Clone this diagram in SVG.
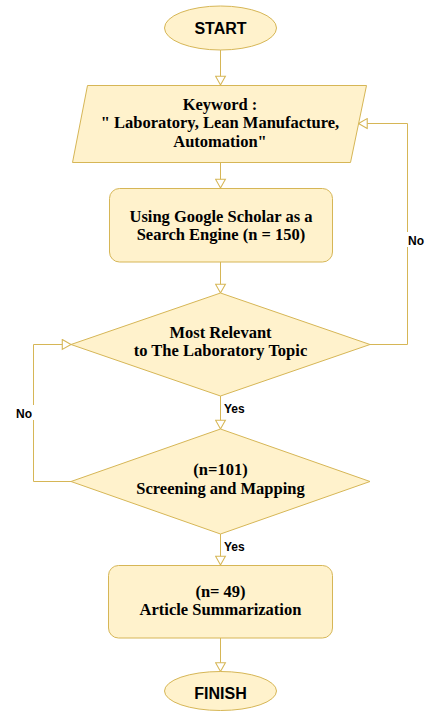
<svg xmlns="http://www.w3.org/2000/svg" width="426" height="711" viewBox="0 0 426 711">
<style>
.shape{fill:#fff2cc;stroke:#d6b656;stroke-width:1}
.conn{fill:none;stroke:#d6b656;stroke-width:1}
.t{font-family:"Liberation Serif","Times New Roman",serif;font-weight:bold;font-size:16.5px;fill:#000;text-anchor:middle}
.ts{font-family:"Liberation Sans",Arial,sans-serif;font-weight:bold;font-size:16px;fill:#000;text-anchor:middle}
.lbl{font-family:"Liberation Sans",Arial,sans-serif;font-weight:bold;font-size:12px;fill:#000}
</style>
<defs>
<marker id="arr" markerUnits="userSpaceOnUse" markerWidth="12" markerHeight="12" refX="8" refY="4.5" orient="auto" viewBox="-1 -1 11 11">
<path d="M0,0 L8,4.5 L0,9 Z" fill="#ffffff" stroke="#d6b656" stroke-width="1"/>
</marker>
</defs>
<rect width="426" height="711" fill="#ffffff"/>
<g id="connectors">
<line class="conn" x1="220.5" y1="50" x2="220.5" y2="85" marker-end="url(#arr)"/>
<line class="conn" x1="220.5" y1="162" x2="220.5" y2="188" marker-end="url(#arr)"/>
<line class="conn" x1="220.5" y1="262" x2="220.5" y2="293" marker-end="url(#arr)"/>
<line class="conn" x1="220.5" y1="396" x2="220.5" y2="429" marker-end="url(#arr)"/>
<line class="conn" x1="220.5" y1="534" x2="220.5" y2="565" marker-end="url(#arr)"/>
<line class="conn" x1="220.5" y1="638" x2="220.5" y2="671.5" marker-end="url(#arr)"/>
<polyline class="conn" points="370,344.5 407.5,344.5 407.5,123.5 358.5,123.5" marker-end="url(#arr)"/>
<polyline class="conn" points="71,481.5 33.5,481.5 33.5,344.5 71,344.5" marker-end="url(#arr)"/>
<rect x="404" y="232" width="22" height="15" fill="#ffffff"/>
<text class="lbl" x="408" y="245">No</text>
<rect x="15" y="405" width="21" height="15" fill="#ffffff"/>
<text class="lbl" x="16" y="418">No</text>
<text class="lbl" x="224" y="413">Yes</text>
<text class="lbl" x="224" y="551">Yes</text>
</g>
<g id="start">
<ellipse class="shape" cx="220.5" cy="28" rx="56" ry="22"/>
<text class="ts" x="220.5" y="33.5">START</text>
</g>
<g id="keyword">
<polygon class="shape" points="87.5,85.5 366.5,85.5 350.5,162.5 72.5,162.5"/>
<text class="t" x="220" y="109.5">Keyword :</text>
<text class="t" x="220" y="128">" Laboratory, Lean Manufacture,</text>
<text class="t" x="220" y="146.5">Automation"</text>
</g>
<g id="search">
<rect class="shape" x="109.5" y="188.5" width="223" height="73.5" rx="10" ry="10"/>
<text class="t" x="221" y="221.5">Using Google Scholar as a</text>
<text class="t" x="221" y="240">Search Engine (n = 150)</text>
</g>
<g id="relevant">
<polygon class="shape" points="220.5,293 370,344.5 220.5,396 71,344.5"/>
<text class="t" x="220.5" y="337.5">Most Relevant</text>
<text class="t" x="220.5" y="356">to The Laboratory Topic</text>
</g>
<g id="screening">
<polygon class="shape" points="220.5,429 370,481.5 220.5,534 71,481.5"/>
<text class="t" x="220.5" y="475">(n=101)</text>
<text class="t" x="220.5" y="493.5">Screening and Mapping</text>
</g>
<g id="summary">
<rect class="shape" x="108.5" y="565.5" width="224" height="72.5" rx="10" ry="10"/>
<text class="t" x="220.5" y="596.5">(n= 49)</text>
<text class="t" x="220.5" y="615">Article Summarization</text>
</g>
<g id="finish">
<ellipse class="shape" cx="220.5" cy="691" rx="56" ry="19.5"/>
<text class="ts" x="220.5" y="699">FINISH</text>
</g>
</svg>
